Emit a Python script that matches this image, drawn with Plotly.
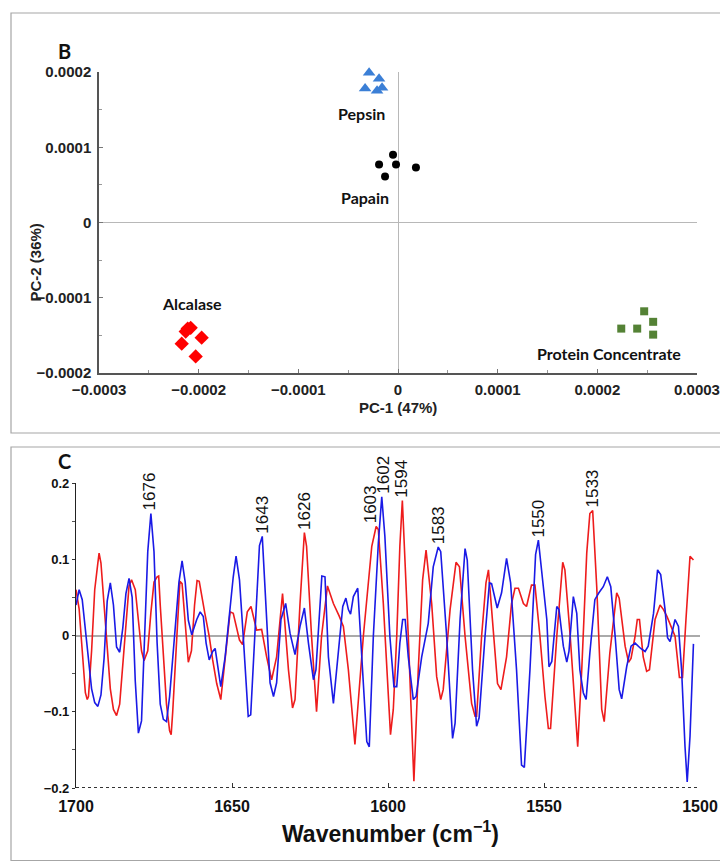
import plotly.graph_objects as go

# ---------------- Panel B : PCA scores ----------------
pepsin_x = [-0.29e-4, -0.19e-4, -0.33e-4, -0.21e-4, -0.16e-4]
pepsin_y = [1.99e-4, 1.91e-4, 1.78e-4, 1.75e-4, 1.79e-4]
papain_x = [-0.05e-4, -0.19e-4, -0.02e-4, -0.13e-4, 0.18e-4]
papain_y = [0.90e-4, 0.77e-4, 0.77e-4, 0.61e-4, 0.73e-4]
alcalase_x = [-2.13e-4, -2.08e-4, -1.97e-4, -2.17e-4, -2.03e-4, -2.11e-4]
alcalase_y = [-1.45e-4, -1.40e-4, -1.53e-4, -1.61e-4, -1.78e-4, -1.41e-4]
protein_x = [2.47e-4, 2.56e-4, 2.24e-4, 2.40e-4, 2.56e-4]
protein_y = [-1.18e-4, -1.32e-4, -1.41e-4, -1.41e-4, -1.49e-4]

group_names = ["Pepsin", "Papain", "Alcalase", "Protein Concentrate"]
group_label_x = [-0.37e-4, -0.33e-4, -2.07e-4, 2.12e-4]
group_label_y = [1.45e-4, 0.33e-4, -1.08e-4, -1.74e-4]

b_xticks = [-0.0003, -0.0002, -0.0001, 0, 0.0001, 0.0002, 0.0003]
b_xticktext = ["\u22120.0003", "\u22120.0002", "\u22120.0001", "0", "0.0001", "0.0002", "0.0003"]
b_yticks = [-0.0002, -0.0001, 0, 0.0001, 0.0002]
b_yticktext = ["\u22120.0002", "\u22120.0001", "0", "0.0001", "0.0002"]

# ---------------- Panel C : spectra ----------------
blue_w = [1700, 1699, 1698, 1697, 1696, 1695, 1694, 1693, 1692, 1691, 1690, 1689, 1688, 1687, 1686,
          1685, 1684, 1683, 1682, 1681, 1680, 1679, 1678, 1677, 1676, 1675, 1674, 1673, 1672, 1671,
          1670, 1669, 1668, 1667, 1666, 1665, 1664, 1662.9, 1661.3, 1660.2, 1659.2, 1658.3, 1657.3,
          1656.2, 1655.4, 1654.4, 1653.6, 1652.2, 1650.6, 1649.6, 1648.7, 1647.6, 1646.4, 1644.8,
          1644.0, 1642.6, 1641.2, 1640.3, 1638.9, 1637.8, 1636.7, 1635.7, 1634.3, 1633.2, 1632.8,
          1631.4, 1629.8, 1628.2, 1626.8, 1625.5, 1623.9, 1623.1, 1622.1, 1621.2, 1620.2, 1619.1,
          1617.5, 1616.2, 1614.5, 1613.5, 1612.7, 1612.0, 1611.1, 1609.7, 1608.4, 1606.8, 1606.0,
          1604.7, 1603.1, 1602.0, 1601.0, 1599.4, 1598.1, 1597.2, 1596.2, 1595.3, 1594.5, 1593.5,
          1591.9, 1591.0, 1589.2, 1587.1, 1585.5, 1583.9, 1583.1, 1581.2, 1579.3, 1578.5, 1576.9,
          1575.3, 1574.6, 1572.9, 1571.6, 1570.8, 1568.9, 1567.5, 1566.8, 1565.0, 1563.6, 1562.0,
          1560.7, 1558.8, 1557.2, 1556.3, 1554.5, 1552.7, 1551.8, 1550.7, 1549.1, 1548.4, 1547.5,
          1545.9, 1545.2, 1543.8, 1542.7, 1542.0, 1540.6, 1539.5, 1538.5, 1537.4, 1536.5, 1535.3,
          1533.7, 1532.4, 1531.0, 1529.7, 1528.6, 1527.2, 1525.9, 1525.1, 1523.5, 1522.1, 1520.8,
          1519.0, 1517.6, 1516.6, 1514.9, 1513.6, 1512.6, 1511.2, 1510.4, 1509.6, 1508.5, 1508.0,
          1506.9, 1505.9, 1504.8, 1504.1, 1503.2, 1502.1]
blue_v = [0.040, 0.060, 0.047, 0.010, -0.035, -0.070, -0.088, -0.093, -0.078, -0.030, 0.045, 0.069,
          0.040, -0.015, -0.022, 0.010, 0.055, 0.075, 0.050, -0.060, -0.128, -0.112, 0.000, 0.110,
          0.160, 0.110, -0.010, -0.090, -0.110, -0.113, -0.080, -0.030, 0.020, 0.070, 0.098, 0.070,
          0.020, 0.001, 0.021, 0.031, 0.025, -0.010, -0.032, -0.021, -0.017, -0.045, -0.067, -0.028,
          0.042, 0.077, 0.104, 0.073, -0.001, -0.106, -0.104, -0.001, 0.118, 0.130, 0.021, -0.062,
          -0.080, -0.062, 0.021, 0.038, 0.042, 0.003, -0.025, 0.012, 0.036, -0.010, -0.058, -0.045,
          0.021, 0.078, 0.077, -0.028, -0.089, -0.036, 0.038, 0.049, 0.034, 0.028, 0.051, 0.062,
          -0.028, -0.139, -0.146, -0.001, 0.121, 0.182, 0.130, -0.001, -0.067, -0.067, -0.010, 0.021,
          0.021, -0.028, -0.084, -0.080, -0.028, 0.016, 0.090, 0.116, 0.110, -0.001, -0.135, -0.115,
          0.021, 0.114, 0.099, -0.045, -0.119, -0.108, -0.001, 0.069, 0.068, 0.036, 0.056, 0.101,
          0.069, -0.045, -0.170, -0.173, -0.045, 0.106, 0.125, 0.086, 0.021, -0.041, -0.034, 0.038,
          0.034, -0.014, -0.035, -0.021, 0.051, 0.029, -0.045, -0.075, -0.084, -0.023, 0.047, 0.056,
          0.064, 0.077, 0.064, -0.001, -0.071, -0.083, -0.041, -0.014, -0.010, -0.017, -0.021, -0.014,
          0.029, 0.086, 0.080, 0.034, -0.003, -0.008, 0.012, 0.021, 0.012, -0.045, -0.146, -0.192,
          -0.132, -0.011]

red_w = [1700, 1699, 1698, 1697, 1696.4, 1696, 1695, 1694, 1693, 1692.6, 1692, 1691, 1690, 1689, 1688,
         1687, 1686, 1685, 1684, 1683, 1682.2, 1681, 1680, 1679, 1678.2, 1677, 1676, 1675, 1674,
         1673.5, 1673, 1672, 1671, 1670, 1669.5, 1669, 1668, 1667, 1666.7, 1666, 1665, 1664, 1663,
         1662, 1661.2, 1660.5, 1658.7, 1657.3, 1656.2, 1654.9, 1653.6, 1652.2, 1650.6, 1649.6,
         1647.6, 1646.6, 1645.1, 1643.9, 1642.1, 1640.5, 1638.9, 1637.3, 1635.7, 1633.8, 1631.9,
         1630.6, 1629.8, 1628.2, 1626.8, 1626.1, 1624.5, 1622.9, 1621.3, 1619.4, 1617.5, 1615.6,
         1614.3, 1612.7, 1610.6, 1607.9, 1605.2, 1603.8, 1603.1, 1601.5, 1600.4, 1599.2, 1598.3,
         1597.2, 1596.2, 1595.4, 1593.5, 1591.7, 1590.3, 1588.9, 1587.8, 1586.0, 1584.4, 1583.1,
         1582.3, 1580.1, 1578.2, 1577.1, 1575.3, 1573.2, 1572.1, 1571.6, 1570.0, 1568.6, 1567.8,
         1566.2, 1564.9, 1563.8, 1562.0, 1560.4, 1559.3, 1558.2, 1556.6, 1555.6, 1554.0, 1552.9,
         1551.3, 1549.7, 1548.6, 1547.9, 1545.9, 1544.0, 1543.3, 1541.6, 1540.1, 1539.2, 1537.9,
         1536.3, 1535.3, 1534.4, 1533.1, 1531.5, 1530.7, 1528.9, 1526.7, 1525.9, 1524.0, 1522.9,
         1522.1, 1520.8, 1520.1, 1519.4, 1518.2, 1517.1, 1516.2, 1514.4, 1512.8, 1511.7, 1510.6,
         1509.4, 1508.0, 1506.6, 1505.6, 1504.5, 1503.2, 1502.1]
red_v = [0.060, 0.035, -0.020, -0.075, -0.084, -0.080, -0.020, 0.060, 0.095, 0.108, 0.095, 0.040,
         -0.020, -0.070, -0.097, -0.105, -0.090, -0.040, 0.020, 0.065, 0.073, 0.060, 0.020, -0.020,
         -0.033, -0.020, 0.030, 0.070, 0.077, 0.078, 0.040, -0.030, -0.090, -0.125, -0.130, -0.100,
         -0.020, 0.060, 0.071, 0.068, 0.020, -0.035, -0.020, 0.040, 0.072, 0.071, 0.029, -0.001,
         -0.032, -0.063, -0.084, -0.028, 0.031, 0.029, -0.006, -0.012, 0.031, 0.038, 0.007, 0.008,
         -0.028, -0.058, -0.028, 0.055, -0.045, -0.095, -0.084, 0.042, 0.135, 0.117, -0.001, -0.100,
         -0.001, 0.065, 0.042, 0.025, 0.012, -0.045, -0.143, -0.001, 0.117, 0.143, 0.139, 0.042,
         -0.045, -0.130, -0.097, -0.001, 0.117, 0.177, -0.001, -0.191, -0.045, 0.073, 0.112, 0.042,
         -0.054, -0.084, -0.071, 0.034, 0.096, 0.090, -0.001, -0.089, -0.106, -0.106, -0.001, 0.069,
         0.086, -0.001, -0.063, -0.071, -0.028, 0.042, 0.062, 0.062, 0.042, 0.038, 0.066, 0.066,
         -0.001, -0.080, -0.122, -0.122, -0.001, 0.096, 0.086, -0.001, -0.097, -0.146, -0.045, 0.108,
         0.160, 0.164, 0.064, -0.097, -0.113, -0.023, 0.056, 0.049, -0.014, -0.035, -0.030, -0.001,
         0.021, 0.021, -0.028, -0.047, -0.045, 0.021, 0.040, 0.034, 0.025, 0.012, -0.001, -0.055,
         -0.055, 0.021, 0.104, 0.099]

peak_text = ["1676", "1643", "1626", "1603", "1602", "1594", "1583", "1550", "1533"]
peak_w = [1676.3, 1640.3, 1626.8, 1605.5, 1601.3, 1595.8, 1583.9, 1551.8, 1534.6]
peak_v = [0.160, 0.130, 0.135, 0.143, 0.182, 0.177, 0.116, 0.125, 0.164]

c_xticks = [1700, 1650, 1600, 1550, 1500]
c_yticks = [-0.2, -0.1, 0, 0.1, 0.2]
c_yticktext = ["\u22120.2", "\u22120.1", "0", "0.1", "0.2"]

# The page body has an 8px margin: the figure is sized to fill the rest of the window,
# and reference pixel positions are converted to paper fractions of that figure.
OFF = 8
W, H = 728 - OFF, 861 - OFF
def px(x):
    return (x - OFF) / W
def py(y):
    return 1 - (y - OFF) / H

fig = go.Figure()

# Panel B traces
fig.add_trace(go.Scatter(x=pepsin_x, y=pepsin_y, mode="markers", cliponaxis=False,
                         marker=dict(symbol="triangle-up", size=11, color="#3b7fd6"),
                         xaxis="x", yaxis="y", showlegend=False))
fig.add_trace(go.Scatter(x=papain_x, y=papain_y, mode="markers", cliponaxis=False,
                         marker=dict(symbol="circle", size=8, color="#000000"),
                         xaxis="x", yaxis="y", showlegend=False))
fig.add_trace(go.Scatter(x=alcalase_x, y=alcalase_y, mode="markers", cliponaxis=False,
                         marker=dict(symbol="diamond", size=11, color="#ff0000"),
                         xaxis="x", yaxis="y", showlegend=False))
fig.add_trace(go.Scatter(x=protein_x, y=protein_y, mode="markers", cliponaxis=False,
                         marker=dict(symbol="square", size=8, color="#548235"),
                         xaxis="x", yaxis="y", showlegend=False))

# Panel C traces
fig.add_trace(go.Scatter(x=red_w, y=red_v, mode="lines", line=dict(color="#ee1c1c", width=1.6),
                         xaxis="x2", yaxis="y2", showlegend=False))
fig.add_trace(go.Scatter(x=blue_w, y=blue_v, mode="lines", line=dict(color="#1a1ae6", width=1.6),
                         xaxis="x2", yaxis="y2", showlegend=False))

bold_tick = dict(family="Liberation Sans, Arial", size=15, color="#222222", weight="bold")

fig.update_layout(
    width=W, height=H, margin=dict(l=0, r=0, t=0, b=0, pad=0, autoexpand=False),
    showlegend=False,
    paper_bgcolor="white", plot_bgcolor="rgba(0,0,0,0)",
    xaxis=dict(domain=[px(99), px(697)], anchor="y", range=[-0.0003, 0.0003], automargin=False,
               tickvals=b_xticks, ticktext=b_xticktext, tickfont=bold_tick, ticklabelstandoff=2,
               showgrid=False, zeroline=True, zerolinecolor="#b8b8b8", zerolinewidth=1,
               showline=True, linecolor="#555555", linewidth=1.5,
               ticks="inside", ticklen=4, tickcolor="#777777",
               minor=dict(dtick=0.00005, ticks="inside", ticklen=3, tickcolor="#999999")),
    yaxis=dict(domain=[py(373), py(72)], anchor="x", range=[-0.0002, 0.0002], automargin=False,
               tickvals=b_yticks, ticktext=b_yticktext, tickfont=bold_tick, ticklabelstandoff=3,
               showgrid=False, zeroline=True, zerolinecolor="#b8b8b8", zerolinewidth=1,
               showline=True, linecolor="#555555", linewidth=1.5,
               ticks="inside", ticklen=4, tickcolor="#777777",
               minor=dict(dtick=0.00005, ticks="inside", ticklen=3, tickcolor="#999999")),
    xaxis2=dict(domain=[px(76), px(700)], anchor="y2", range=[1700, 1500], automargin=False,
                tickvals=c_xticks, tickfont=dict(family="Liberation Sans, Arial", size=16,
                                                  color="#111111", weight="bold"),
                ticklabelstandoff=7,
                showgrid=False, zeroline=False, showline=False,
                ticks="inside", ticklen=5, tickcolor="#333333"),
    yaxis2=dict(domain=[py(788), py(483)], anchor="x2", range=[-0.2, 0.2], automargin=False,
                tickvals=c_yticks, ticktext=c_yticktext,
                tickfont=dict(family="Liberation Sans, Arial", size=13, color="#111111", weight="bold"),
                showgrid=False, zeroline=True, zerolinecolor="#aaaaaa", zerolinewidth=1.5,
                showline=True, linecolor="#222222", linewidth=1.2,
                ticks="outside", ticklen=3, tickcolor="#333333",
                minor=dict(dtick=0.05, ticks="outside", ticklen=3, tickcolor="#555555")),
)

shapes = [
    dict(type="rect", xref="paper", yref="paper", x0=px(11), x1=px(727.5), y0=py(433), y1=py(13),
         line=dict(color="#a6a6a6", width=1.2), fillcolor="rgba(0,0,0,0)", layer="below"),
    dict(type="rect", xref="paper", yref="paper", x0=px(11), x1=px(727.5), y0=py(860.5), y1=py(447),
         line=dict(color="#a6a6a6", width=1.2), fillcolor="rgba(0,0,0,0)", layer="below"),
    dict(type="line", xref="x2 domain", yref="y2", x0=0, x1=1, y0=-0.2, y1=-0.2,
         line=dict(color="#333333", width=2, dash="dot")),
]
fig.update_layout(shapes=shapes)

ann = []
for name, gx, gy in zip(group_names, group_label_x, group_label_y):
    ann.append(dict(x=gx, y=gy, xref="x", yref="y", text=name, showarrow=False,
                    font=dict(family="Lato, Open Sans", size=16, color="#111111", weight="bold")))
for t, w, v in zip(peak_text, peak_w, peak_v):
    ann.append(dict(x=w, y=v, xref="x2", yref="y2", text=t, showarrow=False, textangle=-90,
                    xanchor="center", yanchor="bottom", yshift=1,
                    font=dict(family="Liberation Sans, Arial", size=17, color="#111111")))
ann += [
    dict(x=px(56), y=py(37), xref="paper", yref="paper", text="B", showarrow=False,
         font=dict(family="Lato, Open Sans", size=20, color="#111111", weight="bold")),
    dict(x=px(56), y=py(461), xref="paper", yref="paper", text="C", showarrow=False,
         font=dict(family="Lato, Open Sans", size=20, color="#111111", weight="bold")),
    dict(x=px(398), y=py(407), xref="paper", yref="paper", text="PC-1 (47%)", showarrow=False,
         font=dict(family="Liberation Sans, Arial", size=15, color="#222222", weight="bold")),
    dict(x=px(24), y=py(222), xref="paper", yref="paper", text="PC-2 (36%)", showarrow=False,
         textangle=-90, font=dict(family="Liberation Sans, Arial", size=15, color="#222222",
                                  weight="bold")),
    dict(x=px(390), y=py(849), xref="paper", yref="paper", text="Wavenumber (cm<sup>\u22121</sup>)",
         showarrow=False, yanchor="bottom",
         font=dict(family="Liberation Sans, Arial", size=23, color="#111111", weight="bold")),
]
fig.update_layout(annotations=ann)

fig.write_html("out.html")
